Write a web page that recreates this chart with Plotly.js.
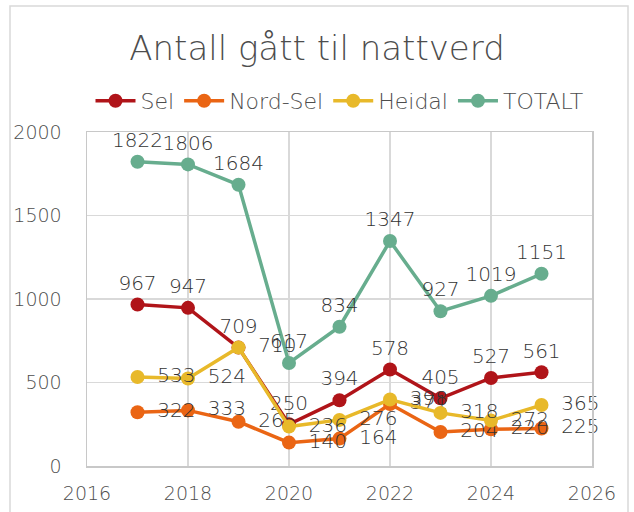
<!DOCTYPE html>
<html>
<head>
<meta charset="utf-8">
<script src="https://cdn.plot.ly/plotly-3.0.1.min.js"></script>
<style>html,body{margin:0;padding:0;background:#fff;}#chart{width:634px;height:512px;}</style>
</head>
<body>
<div id="chart"></div>
<script>
const years = [2017, 2018, 2019, 2020, 2021, 2022, 2023, 2024, 2025];
const sel = [967, 947, 709, 250, 394, 578, 405, 527, 561];
const nordSel = [322, 333, 265, 140, 164, 371, 204, 220, 225];
const heidal = [533, 524, 710, 236, 276, 398, 318, 272, 365];
const totalt = [1822, 1806, 1684, 617, 834, 1347, 927, 1019, 1151];

const FONT = "'DejaVu Sans', sans-serif";
const TXT = '#333333';

function series(name, y, color, pos, pad) {
  return {
    type: 'scatter', mode: 'lines+markers+text', name: name,
    x: years, y: y, text: y.map(v => (pad ? '\u2002' : '') + v), textposition: pos,
    textfont: {family: FONT, size: 20, color: TXT, weight: 300},
    line: {color: color, width: 3.5},
    marker: {color: color, size: 14},
    cliponaxis: false
  };
}

const data = [
  series('Sel', sel, '#b01419', 'top center', false),
  series('Nord-Sel', nordSel, '#ea6514', 'middle right', true),
  series('Heidal', heidal, '#e8b92a', 'middle right', true),
  series('TOTALT', totalt, '#67ad8e', 'top center', false)
];

const layout = {
  width: 634, height: 512,
  margin: {l: 87, r: 42, t: 132, b: 46},
  paper_bgcolor: '#fff', plot_bgcolor: '#fff',
  font: {family: FONT, color: '#595959'},
  title: {text: 'Antall gått til nattverd', font: {family: FONT, size: 34, color: '#4d4d4d', weight: 300},
          x: 0.5, xanchor: 'center', y: 1 - 48/512, yanchor: 'middle', yref: 'container'},
  showlegend: true,
  legend: {orientation: 'h', x: 0.5, xanchor: 'center', y: (466-101)/334, yanchor: 'middle',
           font: {family: FONT, size: 22, color: '#4d4d4d', weight: 300}, itemwidth: 40, traceorder: 'normal'},
  xaxis: {range: [2016, 2026], dtick: 2, tick0: 2016, showgrid: true, gridcolor: '#d9d9d9', gridwidth: 1.5,
          zeroline: false, showline: true, linecolor: '#c8c8c8', linewidth: 1.5, mirror: true,
          ticks: '', ticklabelstandoff: 10, tickfont: {family: FONT, size: 19, color: '#4d4d4d', weight: 300}},
  yaxis: {range: [0, 2000], dtick: 500, showgrid: true, gridcolor: '#d9d9d9', gridwidth: 1.5,
          zeroline: false, showline: true, linecolor: '#c8c8c8', linewidth: 1.5, mirror: true,
          ticks: '', ticklabelstandoff: 20, tickfont: {family: FONT, size: 19, color: '#4d4d4d', weight: 300}},
  shapes: [{type: 'rect', xref: 'paper', yref: 'paper',
            x0: (10-87)/505, x1: (628-87)/505, y0: -0.3, y1: (466-6)/334,
            line: {color: '#d9d9d9', width: 1.5}, fillcolor: 'rgba(0,0,0,0)', layer: 'below'}]
};

Plotly.newPlot('chart', data, layout, {displayModeBar: false, staticPlot: true});
</script>
</body>
</html>
